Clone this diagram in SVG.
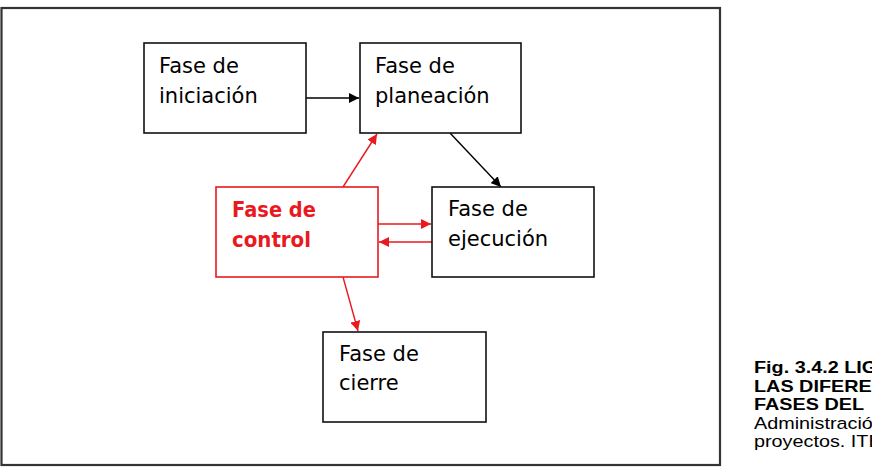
<svg xmlns="http://www.w3.org/2000/svg" width="872" height="468" viewBox="0 0 872 468">
<defs>
<style>
.box{fill:#fff;stroke:#111;stroke-width:1.6}
.rbox{fill:#fff;stroke:#e8191f;stroke-width:1.6}
.t{font-family:"DejaVu Sans",Verdana,sans-serif;font-size:21px;fill:#000}
.rt{font-family:"DejaVu Sans",Verdana,sans-serif;font-size:21px;font-weight:bold;fill:#e8191f}
.c{stroke:#000;stroke-width:1.4;fill:none}
.rc{stroke:#e8191f;stroke-width:1.4;fill:none}
.cap{font-family:"Liberation Sans",Arial,sans-serif;font-size:16.5px;fill:#000}
.capb{font-weight:bold}
</style>
<marker id="ab" viewBox="0 0 10 10" refX="10" refY="5" markerWidth="10" markerHeight="10" markerUnits="userSpaceOnUse" orient="auto">
<path d="M0,0 L10,5 L0,10 z" fill="#000"/>
</marker>
<marker id="ar" viewBox="0 0 10 10" refX="10" refY="5" markerWidth="10" markerHeight="10" markerUnits="userSpaceOnUse" orient="auto">
<path d="M0,0 L10,5 L0,10 z" fill="#e8191f"/>
</marker>
</defs>
<rect x="0" y="0" width="872" height="468" fill="#fff"/>
<rect x="1.5" y="8" width="718.5" height="457" fill="none" stroke="#333" stroke-width="2.2"/>

<g id="connectors">
<line class="c" x1="306" y1="98" x2="359" y2="98" marker-end="url(#ab)"/>
<line class="c" x1="450" y1="133" x2="501" y2="187" marker-end="url(#ab)"/>
<line class="rc" x1="343" y1="187" x2="377" y2="134" marker-end="url(#ar)"/>
<line class="rc" x1="378" y1="224" x2="431" y2="224" marker-end="url(#ar)"/>
<line class="rc" x1="432" y1="242" x2="379" y2="242" marker-end="url(#ar)"/>
<line class="rc" x1="343" y1="277" x2="358" y2="331" marker-end="url(#ar)"/>
</g>

<g id="iniciacion">
<rect class="box" x="144" y="43" width="162" height="90"/>
<text class="t" x="159" y="73">Fase de</text>
<text class="t" x="159" y="103">iniciación</text>
</g>
<g id="planeacion">
<rect class="box" x="360" y="43" width="161" height="90"/>
<text class="t" x="375" y="73">Fase de</text>
<text class="t" x="375" y="103">planeación</text>
</g>
<g id="control">
<rect class="rbox" x="216" y="187" width="162" height="90"/>
<text class="rt" x="232" y="217" textLength="84" lengthAdjust="spacingAndGlyphs">Fase de</text>
<text class="rt" x="232" y="247" textLength="79" lengthAdjust="spacingAndGlyphs">control</text>
</g>
<g id="ejecucion">
<rect class="box" x="432" y="187" width="162" height="90"/>
<text class="t" x="448" y="216">Fase de</text>
<text class="t" x="448" y="246">ejecución</text>
</g>
<g id="cierre">
<rect class="box" x="323" y="332" width="163" height="90"/>
<text class="t" x="339" y="361">Fase de</text>
<text class="t" x="339" y="390">cierre</text>
</g>

<g id="caption" transform="translate(754,0) scale(1.2,1)">
<text class="cap capb" x="0" y="373">Fig. 3.4.2 LIG</text>
<text class="cap capb" x="0" y="392">LAS DIFERE</text>
<text class="cap capb" x="0" y="410">FASES DEL</text>
<text class="cap" x="0" y="429">Administració</text>
<text class="cap" x="0" y="447">proyectos. ITE</text>
</g>
</svg>
